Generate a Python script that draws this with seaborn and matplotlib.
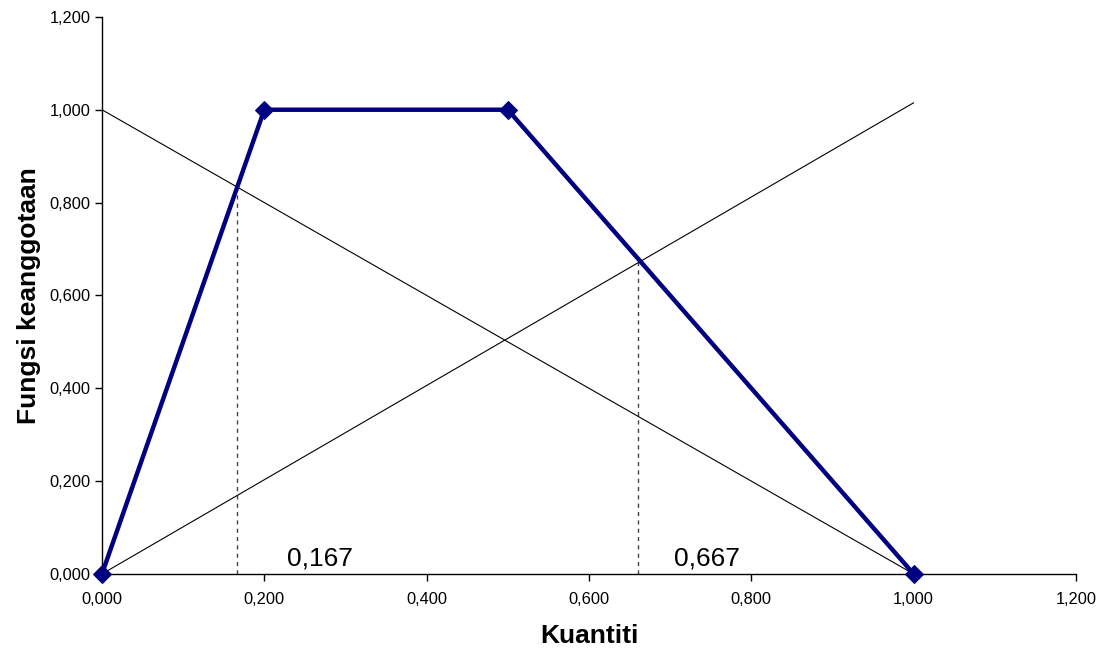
import numpy as np
import pandas as pd
import seaborn as sns
import matplotlib.pyplot as plt
from matplotlib.ticker import FuncFormatter

# Membership function (trapezoid)
kuantiti = [0.0, 0.2, 0.5, 1.0]
fungsi = [0.0, 1.0, 1.0, 0.0]

# Helper lines
turun_x = [0.0, 1.0]
turun_y = [1.0, 0.0]
naik_x = [0.0, 1.0]
naik_y = [0.0, 1.015]

# Cut points
potong_x = [0.166, 0.66]
potong_y = [0.833, 0.675]
potong_label = ['0,167', '0,667']
label_x = [0.228, 0.705]

sns.set_theme(style='white')
plt.rcParams['font.family'] = ['Liberation Sans', 'DejaVu Sans']

fig = plt.figure(figsize=(11.07, 6.49), dpi=100)
ax = fig.add_axes([0.0921, 0.1156, 0.8799, 0.8584])

df = pd.DataFrame({'x': kuantiti, 'y': fungsi})
sns.lineplot(data=df, x='x', y='y', ax=ax, color='#000080', linewidth=3.2,
             marker='D', markersize=9, markeredgecolor='#000080', zorder=4,
             clip_on=False)
sns.lineplot(x=turun_x, y=turun_y, ax=ax, color='black', linewidth=0.8, zorder=3)
sns.lineplot(x=naik_x, y=naik_y, ax=ax, color='black', linewidth=0.8, zorder=3)

for px, py, lab, lx in zip(potong_x, potong_y, potong_label, label_x):
    ax.vlines(px, 0, py, colors='#444444', linestyles=(0, (3, 3)), linewidth=1.0, zorder=2)
    ax.text(lx, 0.008, lab, fontsize=19, color='black', ha='left', va='bottom')

ax.set_xlim(0, 1.2)
ax.set_ylim(0, 1.2)
ticks = np.arange(0, 1.21, 0.2)
ax.set_xticks(ticks)
ax.set_yticks(ticks)
fmt = FuncFormatter(lambda v, p: f'{v:.3f}'.replace('.', ','))
ax.xaxis.set_major_formatter(fmt)
ax.yaxis.set_major_formatter(fmt)
ax.tick_params(axis='both', which='major', direction='out', length=5, width=1,
               color='black', labelsize=11.8, labelcolor='black',
               bottom=True, left=True)
ax.tick_params(axis='x', pad=8)
ax.tick_params(axis='y', pad=3)

for s in ['top', 'right']:
    ax.spines[s].set_visible(False)
for s in ['left', 'bottom']:
    ax.spines[s].set_color('black')
    ax.spines[s].set_linewidth(1)

ax.set_xlabel('Kuantiti', fontsize=19, fontweight='bold', color='black', labelpad=12)
ax.set_ylabel('Fungsi keanggotaan', fontsize=19, fontweight='bold', color='black', labelpad=6)

fig.savefig('out.png', dpi=100)
